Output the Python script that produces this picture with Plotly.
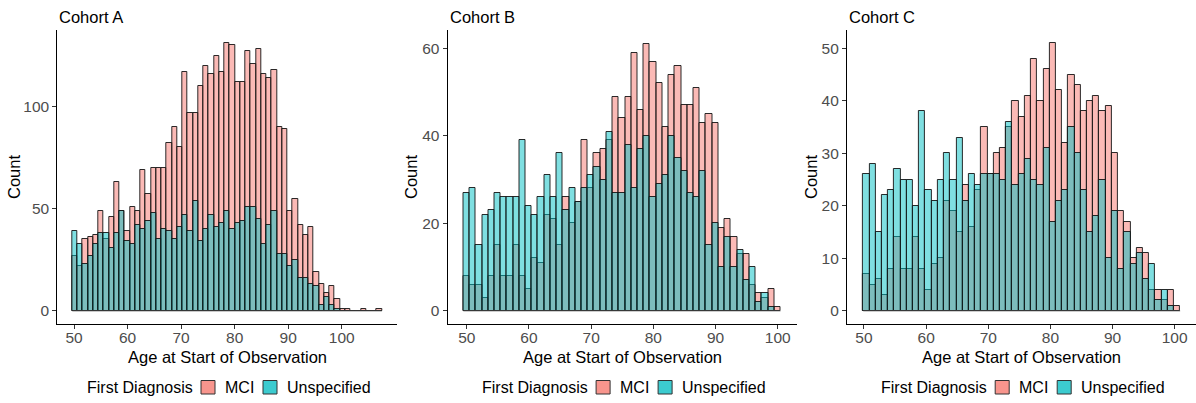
import plotly.graph_objects as go

# ---------------- data (counts per 1-year bin) ----------------
cohorts = ["Cohort A", "Cohort B", "Cohort C"]

# bin centre of the first bin and bin width for each cohort
bin_start_A, bin_width_A = 50.17, 0.98
bin_start_B, bin_width_B = 49.95, 1.0
bin_start_C, bin_width_C = 50.38, 1.0

mci_A = [27, 22, 35, 36, 37, 49, 35, 46, 63, 49, 39, 51, 49, 69, 57, 70, 70, 70, 82, 90,
         80, 117, 97, 97, 110, 120, 116, 125, 117, 131, 130, 112, 112, 127, 121, 128, 116, 114, 118, 90,
         89, 49, 55, 42, 37, 41, 19, 13, 9, 12, 6, 1, 1, 0, 0, 1, 0, 0, 1]
unsp_A = [39, 33, 23, 27, 33, 38, 38, 31, 38, 49, 34, 33, 42, 40, 44, 48, 35, 40, 39, 35,
          41, 47, 39, 54, 34, 40, 47, 41, 43, 49, 40, 43, 44, 51, 51, 45, 33, 42, 49, 28,
          28, 22, 25, 16, 16, 13, 12, 3, 7, 3, 1, 0, 0, 0, 0, 0, 0, 0, 0]

mci_B = [8, 6, 6, 3, 8, 15, 8, 8, 15, 8, 5, 12, 11, 22, 21, 15, 26, 20, 25, 39,
         28, 36, 37, 39, 49, 44, 49, 59, 46, 61, 57, 52, 42, 54, 56, 47, 47, 51, 43, 45,
         43, 19, 21, 17, 13, 13, 6, 4, 3, 5, 1]
unsp_B = [27, 28, 15, 22, 23, 27, 26, 26, 26, 39, 24, 22, 26, 31, 26, 36, 23, 28, 25, 28,
          31, 33, 30, 41, 27, 27, 38, 28, 37, 40, 26, 29, 31, 40, 35, 32, 27, 26, 32, 15,
          20, 10, 17, 10, 14, 7, 10, 2, 4, 1, 0]

mci_C = [7, 5, 6, 3, 8, 14, 8, 8, 14, 8, 4, 9, 10, 21, 19, 15, 24, 16, 23, 35,
         26, 30, 31, 35, 40, 37, 41, 48, 40, 46, 51, 42, 32, 45, 43, 38, 40, 41, 38, 39,
         30, 19, 17, 10, 12, 11, 4, 4, 2, 4, 1]
unsp_C = [26, 28, 15, 22, 23, 27, 25, 25, 20, 38, 23, 21, 25, 30, 25, 33, 21, 26, 24, 26,
          26, 26, 25, 36, 24, 26, 29, 25, 24, 31, 17, 21, 23, 35, 30, 23, 15, 18, 25, 10,
          19, 8, 15, 9, 11, 6, 9, 2, 4, 1, 0]

x_ticks = [50, 60, 70, 80, 90, 100]
y_ticks_A = [0, 50, 100]
y_ticks_B = [0, 20, 40, 60]
y_ticks_C = [0, 10, 20, 30, 40, 50]

series_names = ["MCI", "Unspecified"]
legend_title = "First Diagnosis"
x_title = "Age at Start of Observation"
y_title = "Count"

# ---------------- styling / layout ----------------
W, H = 1196, 403
FONT = "Liberation Sans, Arial, sans-serif"
FILL_MCI = "rgba(248,118,109,0.5)"
FILL_UNS = "rgba(0,191,196,0.5)"
KEY_MCI = "#F8958D"
KEY_UNS = "#3CCBCF"
OUTLINE = "rgba(20,20,20,0.9)"

def px(x):
    return x / W

def py(y):
    return 1 - y / H

panels = [
    dict(name=cohorts[0], start=bin_start_A, width=bin_width_A, mci=mci_A, uns=unsp_A,
         xdom=(57.3, 396.7), xr=(46.88, 110.27), yr=(-6.4, 137.5), yt=y_ticks_A, ytitle_x=14),
    dict(name=cohorts[1], start=bin_start_B, width=bin_width_B, mci=mci_B, uns=unsp_B,
         xdom=(447.5, 796.7), xr=(46.9, 103.05), yr=(-3.0, 64.2), yt=y_ticks_B, ytitle_x=411),
    dict(name=cohorts[2], start=bin_start_C, width=bin_width_C, mci=mci_C, uns=unsp_C,
         xdom=(846.9, 1195.5), xr=(47.25, 103.35), yr=(-2.5, 53.5), yt=y_ticks_C, ytitle_x=811),
]
Y_TOP, Y_BOT = 30, 324

fig = go.Figure()
annotations = []
shapes = []

for i, p in enumerate(panels):
    sfx = "" if i == 0 else str(i + 1)
    xa, ya = "x" + sfx, "y" + sfx
    n = len(p["mci"])
    centres = [p["start"] + k * p["width"] for k in range(n)]
    edges = [centres[0] - p["width"] / 2, centres[-1] + p["width"] / 2]

    fig.add_trace(go.Scatter(x=edges, y=[0, 0], mode="lines", xaxis=xa, yaxis=ya,
                             line=dict(color="rgba(90,90,90,0.8)", width=1),
                             showlegend=False, hoverinfo="skip"))
    fig.add_trace(go.Bar(x=centres, y=p["mci"], width=p["width"], name=series_names[0],
                         xaxis=xa, yaxis=ya, showlegend=False,
                         marker=dict(color=FILL_MCI, line=dict(color=OUTLINE, width=1))))
    fig.add_trace(go.Bar(x=centres, y=p["uns"], width=p["width"], name=series_names[1],
                         xaxis=xa, yaxis=ya, showlegend=False,
                         marker=dict(color=FILL_UNS, line=dict(color=OUTLINE, width=1))))

    axis_common = dict(showline=True, linecolor="black", linewidth=1, ticks="outside",
                       ticklen=4, tickwidth=1, tickcolor="#333333", showgrid=False,
                       zeroline=False, tickfont=dict(family=FONT, size=15.5, color="#4D4D4D"))
    fig.layout["xaxis" + sfx] = dict(domain=[px(p["xdom"][0]), px(p["xdom"][1])],
                                     range=list(p["xr"]), tickvals=x_ticks,
                                     anchor=ya, ticklabelstandoff=-5, **axis_common)
    fig.layout["yaxis" + sfx] = dict(domain=[py(Y_BOT), py(Y_TOP)], range=list(p["yr"]),
                                     tickvals=p["yt"], anchor=xa, **axis_common)

    cx = (p["xdom"][0] + p["xdom"][1]) / 2
    # panel title
    annotations.append(dict(text=p["name"], x=px(p["xdom"][0]), y=py(17), xref="paper", yref="paper",
                            xanchor="left", yanchor="middle", showarrow=False,
                            font=dict(family=FONT, size=16.5, color="black")))
    # axis titles
    annotations.append(dict(text=x_title, x=px(cx), y=py(357), xref="paper", yref="paper",
                            xanchor="center", yanchor="middle", showarrow=False,
                            font=dict(family=FONT, size=16.5, color="black")))
    annotations.append(dict(text=y_title, x=px(p["ytitle_x"]), y=py(177), xref="paper", yref="paper",
                            xanchor="center", yanchor="middle", showarrow=False, textangle=-90,
                            font=dict(family=FONT, size=16.5, color="black")))
    # legend
    ly = 387.5
    annotations.append(dict(text=legend_title, x=px(cx - 142), y=py(ly), xref="paper", yref="paper",
                            xanchor="left", yanchor="middle", showarrow=False,
                            font=dict(family=FONT, size=16, color="black")))
    for off, col, lab in [(-26, KEY_MCI, series_names[0]), (36, KEY_UNS, series_names[1])]:
        shapes.append(dict(type="rect", xref="paper", yref="paper",
                           x0=px(cx + off), x1=px(cx + off + 14), y0=py(394), y1=py(380.5),
                           fillcolor=col, line=dict(color="#333333", width=1)))
        annotations.append(dict(text=lab, x=px(cx + off + 22), y=py(ly), xref="paper", yref="paper",
                                xanchor="left", yanchor="middle", showarrow=False,
                                font=dict(family=FONT, size=16, color="black")))

fig.update_layout(width=W, height=H, margin=dict(l=0, r=0, t=0, b=0),
                  paper_bgcolor="white", plot_bgcolor="white",
                  barmode="overlay", bargap=0, showlegend=False,
                  annotations=annotations, shapes=shapes,
                  font=dict(family=FONT))

fig.write_html("out.html")
